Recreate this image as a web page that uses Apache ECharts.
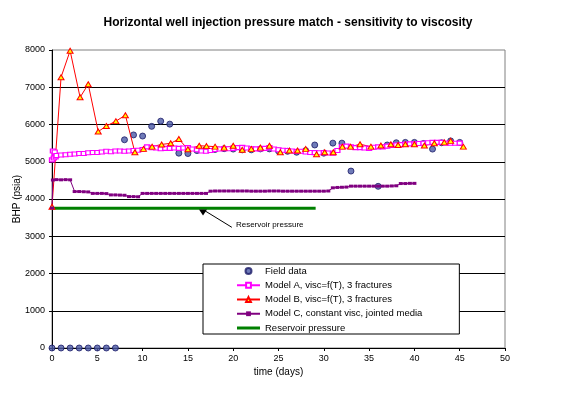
<!DOCTYPE html>
<html>
<head>
<meta charset="utf-8">
<script src="https://cdn.jsdelivr.net/npm/echarts@6/dist/echarts.min.js"></script>
<style>html,body{margin:0;padding:0;background:#fff}#c{width:576px;height:394px}</style>
</head>
<body>
<div id="c"></div>
<script>
const titleText = 'Horizontal well injection pressure match - sensitivity to viscosity';
const xTitle = 'time (days)';
const yTitle = 'BHP (psia)';
const seriesNames = ['Field data', 'Model A, visc=f(T), 3 fractures', 'Model B, visc=f(T), 3 fractures', 'Model C, constant visc, jointed media', 'Reservoir pressure'];
const annotationText = 'Reservoir pressure';

const fieldTime = [0,1,2,3,4,5,6,7,8,9,10,11,12,13,14,15,16,17,18,19,20,21,22,23,24,25,26,27,28,29,30,31,32,33,36,37,38,39,40,41,42,43,44,45];
const fieldBHP  = [0,0,0,0,0,0,0,0,5590,5720,5690,5950,6090,6010,5230,5220,5300,5335,5330,5350,5340,5320,5320,5345,5345,5290,5280,5255,5300,5450,5230,5500,5500,4750,4340,5450,5510,5520,5520,5490,5340,5510,5560,5520];

const modelA = [[0,5050],[0.1,5290],[0.2,5100],[0.3,5260],[0.4,5130],[0.5,5170],[1,5180],[1.5,5190],[2,5200],[2.5,5210],[3,5220],[3.5,5220],[4,5240],[4.5,5250],[5,5250],[5.5,5260],[6,5280],[6.5,5270],[7,5290],[7.5,5290],[8,5280],[8.5,5290],[9,5300],[9.5,5310],[10,5330],[10.5,5400],[11,5380],[11.5,5370],[12,5350],[12.5,5360],[13,5360],[13.5,5370],[14,5360],[14.5,5370],[15,5380],[15.5,5340],[16,5320],[16.5,5290],[17,5280],[17.5,5300],[18,5330],[18.5,5340],[19,5350],[19.5,5350],[20,5360],[20.5,5380],[21,5385],[21.5,5370],[22,5350],[22.5,5345],[23,5340],[23.5,5360],[24,5380],[24.5,5340],[25,5320],[25.5,5310],[26,5300],[26.5,5290],[27,5275],[27.5,5280],[28,5260],[28.5,5250],[29,5245],[29.5,5240],[30,5245],[30.5,5235],[31,5230],[31.5,5300],[32,5400],[32.5,5420],[33,5400],[33.5,5380],[34,5380],[34.5,5370],[35,5360],[35.5,5390],[36,5400],[36.5,5400],[37,5420],[37.5,5440],[38,5450],[38.5,5460],[39,5475],[39.5,5480],[40,5480],[40.5,5490],[41,5495],[41.5,5510],[42,5520],[42.5,5520],[43,5520],[43.5,5500],[44,5495],[44.5,5495],[45,5500]];

const modelB = [[0,3790],[1,7270],[2,7980],[3.1,6730],[4,7080],[5.1,5810],[6,5960],[7.05,6090],[8.1,6250],[9.15,5255],[10.1,5345],[11.05,5405],[12.1,5465],[13.1,5495],[14,5610],[15,5335],[16.25,5430],[17.05,5420],[18,5405],[19,5380],[20,5430],[21,5320],[22,5345],[23,5380],[24,5430],[25.2,5255],[26.2,5300],[27.1,5300],[28,5345],[29.2,5200],[30.1,5255],[31.05,5255],[32.05,5405],[32.95,5405],[34,5470],[35.2,5405],[36.3,5435],[37.4,5470],[38.2,5450],[39,5470],[40,5470],[41.1,5435],[42.2,5495],[43.3,5520],[44,5560],[45.4,5405]];

const modelC = [[0,3760],[0.1,4510],[0.5,4520],[1,4515],[1.5,4520],[2,4515],[2.5,4200],[3,4200],[3.5,4195],[4,4190],[4.5,4150],[5,4150],[5.5,4150],[6,4145],[6.5,4110],[7,4110],[7.5,4105],[8,4100],[8.5,4065],[9,4065],[9.5,4060],[10,4150],[10.5,4150],[11,4150],[11.5,4150],[12,4150],[12.5,4150],[13,4150],[13.5,4150],[14,4150],[14.5,4150],[15,4150],[15.5,4150],[16,4150],[16.5,4150],[17,4150],[17.5,4210],[18,4215],[18.5,4215],[19,4215],[19.5,4215],[20,4215],[20.5,4215],[21,4215],[21.5,4215],[22,4210],[22.5,4210],[23,4210],[23.5,4210],[24,4215],[24.5,4215],[25,4215],[25.5,4210],[26,4210],[26.5,4210],[27,4210],[27.5,4210],[28,4210],[28.5,4210],[29,4210],[29.5,4210],[30,4210],[30.5,4215],[31,4300],[31.5,4310],[32,4315],[32.5,4320],[33,4345],[33.5,4345],[34,4345],[34.5,4345],[35,4345],[35.5,4345],[36,4345],[36.5,4345],[37,4345],[37.5,4350],[38,4355],[38.5,4415],[39,4415],[39.5,4420],[40,4420]];

const reservoirTime = [0, 29.1];
const reservoirBHP = [3750, 3750];

const xTicks = {min: 0, max: 50, interval: 5};
const yTicks = {min: 0, max: 8000, interval: 1000};

const chart = echarts.init(document.getElementById('c'), null, {renderer: 'canvas'});
const F = 'Arial, "Liberation Sans", sans-serif';

chart.setOption({
  animation: false,
  backgroundColor: '#fff',
  title: {
    text: titleText, left: 'center', top: 12,
    textStyle: {fontFamily: F, fontSize: 12, fontWeight: 'bold', color: '#000'}
  },
  grid: {left: 52, top: 50, width: 453, height: 298, show: true, borderColor: '#808080', borderWidth: 1, backgroundColor: 'transparent'},
  legend: {
    left: 203, top: 264, orient: 'vertical',
    backgroundColor: '#fff', borderColor: '#000', borderWidth: 1,
    padding: [1, 37, 0, 33], itemWidth: 23, itemHeight: 6, itemGap: 2.25,
    textStyle: {fontFamily: F, fontSize: 9.5, color: '#000', lineHeight: 12},
    data: [
      {name: seriesNames[0]},
      {name: seriesNames[1]},
      {name: seriesNames[2]},
      {name: seriesNames[3]},
      {name: seriesNames[4], icon: 'path://M0,0 L23,0 L23,3 L0,3 Z', itemStyle: {color: '#008000'}}
    ]
  },
  xAxis: {
    type: 'value', min: xTicks.min, max: xTicks.max, interval: xTicks.interval,
    name: xTitle, nameLocation: 'middle', nameGap: 19, nameMoveOverlap: false,
    nameTextStyle: {fontFamily: F, fontSize: 10, color: '#000'},
    axisLine: {lineStyle: {color: '#000', width: 1}},
    axisTick: {show: true, length: 3, lineStyle: {color: '#000'}},
    axisLabel: {fontFamily: F, fontSize: 9, color: '#000', margin: 6},
    splitLine: {show: false}
  },
  yAxis: {
    type: 'value', min: yTicks.min, max: yTicks.max, interval: yTicks.interval,
    name: yTitle, nameLocation: 'middle', nameGap: 30, nameRotate: 90, nameMoveOverlap: false,
    nameTextStyle: {fontFamily: F, fontSize: 10, color: '#000'},
    axisLine: {show: true, lineStyle: {color: '#000', width: 1}},
    axisTick: {show: true, length: 3, lineStyle: {color: '#000'}},
    axisLabel: {fontFamily: F, fontSize: 9, color: '#000', margin: 7, formatter: v => String(v)},
    splitLine: {show: true, showMinLine: false, showMaxLine: false, lineStyle: {color: '#000', width: 1}}
  },
  series: [
    {
      name: seriesNames[0], type: 'scatter',
      data: fieldTime.map((t, i) => [t, fieldBHP[i]]),
      symbol: 'circle', symbolSize: 6,
      itemStyle: {color: '#4b5aa6', borderColor: '#1a1a66', borderWidth: 1}
    },
    {
      name: seriesNames[1], type: 'line', data: modelA,
      symbol: 'rect', symbolSize: [5, 4], showAllSymbol: true,
      lineStyle: {color: '#ff00ff', width: 1.5},
      itemStyle: {color: '#ffffff', borderColor: '#ff00ff', borderWidth: 1.2}
    },
    {
      name: seriesNames[2], type: 'line', data: modelB,
      symbol: 'triangle', symbolSize: [6, 5], showAllSymbol: true,
      lineStyle: {color: '#ff0000', width: 1},
      itemStyle: {color: '#ffff00', borderColor: '#ff0000', borderWidth: 1}
    },
    {
      name: seriesNames[3], type: 'line', data: modelC,
      symbol: 'rect', symbolSize: [4, 3], showAllSymbol: true,
      lineStyle: {color: '#800080', width: 1},
      itemStyle: {color: '#800080', borderWidth: 0}
    },
    {
      name: seriesNames[4], type: 'line',
      data: reservoirTime.map((t, i) => [t, reservoirBHP[i]]),
      symbol: 'none',
      lineStyle: {color: '#008000', width: 3},
      itemStyle: {color: '#008000'},
      markLine: {
        silent: true, symbol: ['none', 'none'],
        lineStyle: {color: '#000', width: 1, type: 'solid'},
        label: {show: false},
        data: [[{coord: [19.85, 3240]}, {coord: [16.9, 3680]}]]
      },
      markPoint: {
        silent: true,
        data: [
          {coord: [16.67, 3640], symbol: 'triangle', symbolRotate: 180, symbolSize: [8, 6], itemStyle: {color: '#000'}, label: {show: false}},
          {coord: [20.3, 3300], symbol: 'circle', symbolSize: 0, label: {show: true, position: 'right', distance: 0, formatter: annotationText, fontFamily: F, fontSize: 8, color: '#000'}}
        ]
      }
    }
  ]
});
</script>
</body>
</html>
